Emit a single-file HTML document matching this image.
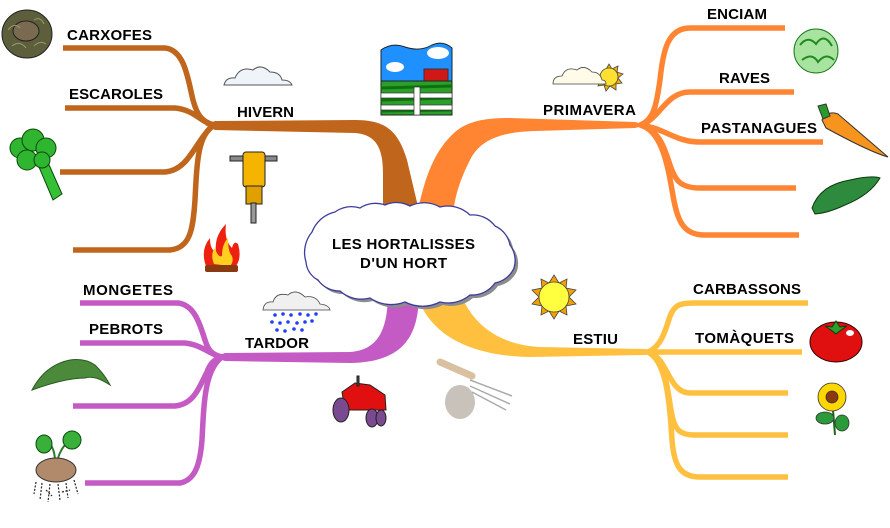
<!DOCTYPE html>
<html><head><meta charset="utf-8"><style>
html,body{margin:0;padding:0;background:#fff;}
svg{display:block;}
text{font-family:"Liberation Sans",Arial,sans-serif;font-weight:bold;font-size:15px;fill:#000;}
</style></head><body>
<svg width="890" height="528" viewBox="0 0 890 528" xmlns="http://www.w3.org/2000/svg">
<rect width="890" height="528" fill="#fff"/>

<!-- BROWN (HIVERN) -->
<g fill="none" stroke="#c0651c" stroke-width="5.5">
<path d="M63 48 L165 48 C185 50,188 80,193 100 C197 115,202 122,214 125"/>
<path d="M65 108 L175 108 C195 110,200 122,214 125"/>
<path d="M60 172 L165 172 C190 170,195 140,214 125"/>
<path d="M73 250 L170 250 C190 248,193 230,195 200 C197 160,198 135,214 125"/>
</g>
<path fill="#c0651c" d="M205 125 L215 121 L355 120 C385 120,398 130,407 160 L420 215 L383 215 L383 175 C383 150,378 135,355 133 L215 130 Z"/>

<!-- ORANGE (PRIMAVERA) -->
<g fill="none" stroke="#ff8533" stroke-width="5.5">
<path d="M640 125 C655 120,657 100,660 80 C663 50,668 28,690 28 L785 28"/>
<path d="M640 125 C660 120,665 92,690 92 L794 92"/>
<path d="M640 125 C665 128,675 142,700 142 L823 142"/>
<path d="M640 125 C660 130,665 150,670 165 C675 180,680 188,700 188 L796 188"/>
<path d="M640 125 C660 130,667 160,672 190 C677 220,682 235,705 235 L799 235"/>
</g>
<path fill="#ff8533" d="M417 215 C425 175,435 150,455 132 C468 121,485 118,510 118 L635 122 L648 125 L635 128 L535 131 C500 132,480 140,470 160 C460 180,455 195,453 215 Z"/>

<!-- PURPLE (TARDOR) -->
<g fill="none" stroke="#c45ac4" stroke-width="5.5">
<path d="M80 303 L178 303 C195 305,200 325,205 340 C208 350,212 355,222 357"/>
<path d="M80 343 L185 343 C203 345,210 355,222 357"/>
<path d="M73 406 L175 406 C195 404,200 385,207 372 C210 364,213 360,222 357"/>
<path d="M85 483 L180 483 C195 480,200 465,202 440 C204 400,205 370,222 357"/>
</g>
<path fill="#c45ac4" d="M213 357 L225 353 L350 352 C378 350,388 330,388 292 L419 292 C419 335,405 362,350 363 L225 361 Z"/>

<!-- YELLOW (ESTIU) -->
<g fill="none" stroke="#ffc040" stroke-width="5.5">
<path d="M648 352 C665 345,667 320,672 312 C676 305,680 303,695 303 L808 303"/>
<path d="M640 352 L802 352"/>
<path d="M648 352 C668 357,668 393,690 393 L788 393"/>
<path d="M648 352 C668 360,668 400,672 415 C675 430,680 435,695 435 L788 435"/>
<path d="M648 352 C668 362,670 410,672 440 C674 465,680 477,700 477 L788 477"/>
</g>
<path fill="#ffc040" d="M416 292 C428 335,470 356,530 357 L645 355 L657 352 L645 349 L540 347 C500 345,472 325,460 292 Z"/>

<!-- CENTRAL CLOUD -->
<g transform="translate(3,3)">
<path fill="#8c8c8c" d="M312 232 A32 32 0 0 1 335 212 A28 28 0 0 1 360 208 A28 28 0 0 1 385 205 A28 28 0 0 1 410 206 A32 32 0 0 1 440 207 A32 32 0 0 1 470 215 A28 28 0 0 1 495 226 A26 26 0 0 1 510 245 A26 26 0 0 1 514 268 A26 26 0 0 1 495 283 A28 28 0 0 1 470 295 A34 34 0 0 1 440 302 A38 38 0 0 1 405 302 A38 38 0 0 1 370 298 A32 32 0 0 1 340 291 A26 26 0 0 1 318 280 A22 22 0 0 1 306 262 A32 32 0 0 1 312 232 Z"/>
</g>
<path fill="#fff" stroke="#3c3c9c" stroke-width="1.3" d="M312 232 A32 32 0 0 1 335 212 A28 28 0 0 1 360 208 A28 28 0 0 1 385 205 A28 28 0 0 1 410 206 A32 32 0 0 1 440 207 A32 32 0 0 1 470 215 A28 28 0 0 1 495 226 A26 26 0 0 1 510 245 A26 26 0 0 1 514 268 A26 26 0 0 1 495 283 A28 28 0 0 1 470 295 A34 34 0 0 1 440 302 A38 38 0 0 1 405 302 A38 38 0 0 1 370 298 A32 32 0 0 1 340 291 A26 26 0 0 1 318 280 A22 22 0 0 1 306 262 A32 32 0 0 1 312 232 Z"/>

<!-- LABELS -->
<text x="332" y="249" textLength="143" lengthAdjust="spacing">LES HORTALISSES</text>
<text x="360" y="268" textLength="87" lengthAdjust="spacing">D'UN HORT</text>
<text x="67" y="40" textLength="85" lengthAdjust="spacing">CARXOFES</text>
<text x="69" y="99" textLength="94" lengthAdjust="spacing">ESCAROLES</text>
<text x="237" y="117" textLength="57" lengthAdjust="spacing">HIVERN</text>
<text x="707" y="19" textLength="60" lengthAdjust="spacing">ENCIAM</text>
<text x="719" y="83" textLength="51" lengthAdjust="spacing">RAVES</text>
<text x="701" y="133" textLength="116" lengthAdjust="spacing">PASTANAGUES</text>
<text x="543" y="115" textLength="93" lengthAdjust="spacing">PRIMAVERA</text>
<text x="83" y="295" textLength="90" lengthAdjust="spacing">MONGETES</text>
<text x="89" y="334" textLength="74" lengthAdjust="spacing">PEBROTS</text>
<text x="245" y="348" textLength="64" lengthAdjust="spacing">TARDOR</text>
<text x="693" y="294" textLength="108" lengthAdjust="spacing">CARBASSONS</text>
<text x="695" y="343" textLength="99" lengthAdjust="spacing">TOMÀQUETS</text>
<text x="573" y="344" textLength="45" lengthAdjust="spacing">ESTIU</text>

<!-- ARTICHOKE -->
<g stroke="#222" stroke-width="1">
<ellipse cx="27" cy="34" rx="25" ry="24" fill="#5d5f3c"/>
<ellipse cx="26" cy="31" rx="13" ry="10" fill="#7a6a50"/>
<path d="M8 30 Q14 22 20 28 M34 20 Q40 16 44 24 M12 46 Q20 40 26 48 M34 46 Q40 40 46 44" fill="none" stroke="#9a9a70"/>
</g>

<!-- BROCCOLI -->
<g stroke="#0a4a0a" stroke-width="1">
<path d="M36 160 L46 158 L62 194 L53 200 Z" fill="#36c036"/>
<circle cx="20" cy="148" r="10" fill="#2fb52f"/>
<circle cx="33" cy="140" r="11" fill="#2fb52f"/>
<circle cx="46" cy="148" r="10" fill="#2fb52f"/>
<circle cx="27" cy="160" r="10" fill="#2fb52f"/>
<circle cx="42" cy="160" r="8" fill="#2fb52f"/>
</g>

<!-- SMALL CLOUD HIVERN -->
<path d="M224 85 Q226 77 235 78 Q240 66 253 70 Q261 63 270 72 Q280 72 282 80 Q290 80 292 85 Z" fill="#eef4fa" stroke="#555" stroke-width="1"/>

<!-- FARM -->
<g>
<path d="M381 50 Q392 42 405 47 Q420 52 432 45 Q443 40 452 48 L452 84 L381 84 Z" fill="#1e90ff" stroke="#222"/>
<ellipse cx="395" cy="67" rx="9" ry="5" fill="#fff"/>
<ellipse cx="438" cy="53" rx="11" ry="6" fill="#fff"/>
<rect x="424" y="69" width="24" height="12" fill="#d01818" stroke="#333"/>
<rect x="381" y="81" width="71" height="34" fill="#2aa02a" stroke="#222"/>
<path d="M381 88 L452 86 M381 100 L452 98 M381 111 L452 110" stroke="#107010" stroke-width="3"/>
<rect x="381" y="93" width="71" height="5" fill="#fff" stroke="#333" stroke-width="0.7"/>
<rect x="381" y="105" width="71" height="5" fill="#fff" stroke="#333" stroke-width="0.7"/>
<rect x="414" y="87" width="6" height="28" fill="#fff" stroke="#333" stroke-width="0.7"/>
</g>

<!-- JACKHAMMER -->
<g stroke="#222" stroke-width="1">
<rect x="230" y="156" width="47" height="5" fill="#888"/>
<rect x="243" y="152" width="22" height="35" rx="3" fill="#f5b400"/>
<rect x="246" y="186" width="16" height="18" fill="#e0a000"/>
<rect x="251" y="203" width="5" height="20" fill="#999"/>
</g>

<!-- FIRE -->
<g>
<path d="M206 266 Q200 250 210 238 Q210 250 216 252 Q214 236 226 224 Q224 240 232 248 Q234 240 238 244 Q242 258 236 266 Z" fill="#ee2010"/>
<path d="M214 264 Q210 254 215 248 Q218 258 222 256 Q222 244 228 238 Q228 252 232 256 Q234 262 230 266 Z" fill="#ffd020"/>
<rect x="205" y="265" width="33" height="7" rx="2" fill="#8a3a10"/>
</g>

<!-- CLOUD + SUN PRIMAVERA -->
<g stroke="#444" stroke-width="0.8">
<polygon points="609,64 612,69 618,66 617,72 623,74 618,78 622,83 616,84 616,90 610,86 606,91 604,85 598,86 600,80" fill="#f5b000"/>
<circle cx="609" cy="77" r="9" fill="#ffe030"/>
<path d="M553 84 Q553 76 562 76 Q566 66 577 70 Q584 64 592 72 Q600 72 602 80 Q606 80 606 84 Z" fill="#fffbe8"/>
</g>

<!-- LETTUCE -->
<g stroke="#1a7a1a" stroke-width="1">
<ellipse cx="816" cy="51" rx="22" ry="22" fill="#a8e4a0"/>
<path d="M800 45 Q808 35 816 44 Q824 32 832 46 M802 60 Q812 52 818 62 Q826 52 834 60" fill="none" stroke="#208a20" stroke-width="2"/>
</g>

<!-- CARROT -->
<g stroke="#333" stroke-width="1">
<path d="M822 120 Q828 110 838 114 L888 157 Q870 152 826 128 Z" fill="#f7941d"/>
<path d="M818 106 L826 104 L830 116 L823 119 Z" fill="#2a9a2a"/>
</g>

<!-- PEA POD -->
<path d="M812 208 Q820 185 850 180 Q872 175 880 178 Q870 195 845 205 Q828 213 815 214 Z" fill="#2e8b3e" stroke="#0a3a0a" stroke-width="1"/>

<!-- SUN ESTIU -->
<g stroke="#444" stroke-width="0.8">
<polygon points="554,275 559,283 567,279 566,288 576,290 569,297 576,304 566,306 567,315 559,311 554,319 549,311 541,315 542,306 532,304 539,297 532,290 542,288 541,279 549,283" fill="#f5a000"/>
<circle cx="554" cy="297" r="15" fill="#ffff40"/>
</g>

<!-- TROWEL / FORK -->
<g>
<path d="M440 362 L472 376" stroke="#d8c0a0" stroke-width="7" stroke-linecap="round"/>
<ellipse cx="460" cy="402" rx="15" ry="17" fill="#c8c2ba"/>
<path d="M470 380 L512 396 M470 386 L510 404 M472 392 L506 410" stroke="#aaa" stroke-width="1.5"/>
</g>

<!-- TRACTOR -->
<g stroke="#222" stroke-width="1">
<path d="M342 392 L355 383 L370 385 L385 395 L386 410 L345 410 Z" fill="#e01010"/>
<rect x="357" y="376" width="2" height="10" fill="#444"/>
<ellipse cx="341" cy="410" rx="8" ry="12" fill="#7a4a90"/>
<ellipse cx="372" cy="418" rx="6" ry="9" fill="#7a4a90"/>
<ellipse cx="381" cy="418" rx="5" ry="8" fill="#7a4a90"/>
</g>

<!-- RAIN CLOUD -->
<g>
<path d="M263 310 Q264 301 273 302 Q276 292 288 295 Q296 288 305 297 Q316 295 320 304 Q329 305 330 310 Z" fill="#f0f0f0" stroke="#444" stroke-width="0.8"/>
<g fill="#2040ff">
<circle cx="275" cy="315" r="1.8"/><circle cx="283" cy="314" r="1.8"/><circle cx="291" cy="315" r="1.8"/><circle cx="300" cy="314" r="1.8"/><circle cx="308" cy="315" r="1.8"/><circle cx="316" cy="314" r="1.8"/>
<circle cx="272" cy="322" r="1.8"/><circle cx="280" cy="323" r="1.8"/><circle cx="288" cy="322" r="1.8"/><circle cx="297" cy="323" r="1.8"/><circle cx="305" cy="322" r="1.8"/><circle cx="312" cy="321" r="1.8"/>
<circle cx="277" cy="330" r="1.8"/><circle cx="285" cy="331" r="1.8"/><circle cx="294" cy="329" r="1.8"/><circle cx="302" cy="330" r="1.8"/>
</g>
</g>

<!-- PEPPER -->
<path d="M32 390 Q45 365 70 360 Q85 358 95 365 Q105 375 110 385 Q95 375 85 378 Q65 378 32 390 Z" fill="#4a8a3a" stroke="#2a5a20" stroke-width="1"/>

<!-- SEEDLING -->
<g>
<path d="M55 462 Q55 448 48 442 M57 462 Q60 448 70 440" stroke="#2a7a2a" stroke-width="2" fill="none"/>
<ellipse cx="44" cy="444" rx="8" ry="9" fill="#3ab03a" stroke="#0a4a0a"/>
<ellipse cx="72" cy="440" rx="9" ry="9" fill="#3ab03a" stroke="#0a4a0a"/>
<ellipse cx="56" cy="470" rx="20" ry="12" fill="#b08a6a" stroke="#333"/>
<path d="M36 482 L34 494 M42 483 L40 500 M50 484 L48 502 M58 484 L60 500 M66 483 L68 498 M74 480 L78 494 M46 490 L52 496 M62 492 L70 490" stroke="#222" stroke-width="1.2" stroke-dasharray="2 1.5"/>
</g>

<!-- TOMATO -->
<g stroke="#300" stroke-width="1">
<ellipse cx="836" cy="342" rx="26" ry="20" fill="#e01010"/>
<ellipse cx="850" cy="333" rx="4" ry="3" fill="#fff" stroke="none"/>
<polygon points="836,321 840,327 847,326 841,330 836,334 831,330 825,326 832,327" fill="#2aa02a" stroke="#0a3a0a"/>
</g>

<!-- SUNFLOWER -->
<g stroke="#333" stroke-width="0.8">
<path d="M833 410 L835 435" stroke="#1a6a1a" stroke-width="2"/>
<ellipse cx="825" cy="418" rx="9" ry="6" fill="#2a9a3a"/>
<ellipse cx="842" cy="423" rx="7" ry="8" fill="#2a9a3a"/>
<circle cx="832" cy="397" r="14" fill="#ffd700"/>
<circle cx="832" cy="397" r="6" fill="#8b3a10"/>
</g>
</svg>
</body></html>
